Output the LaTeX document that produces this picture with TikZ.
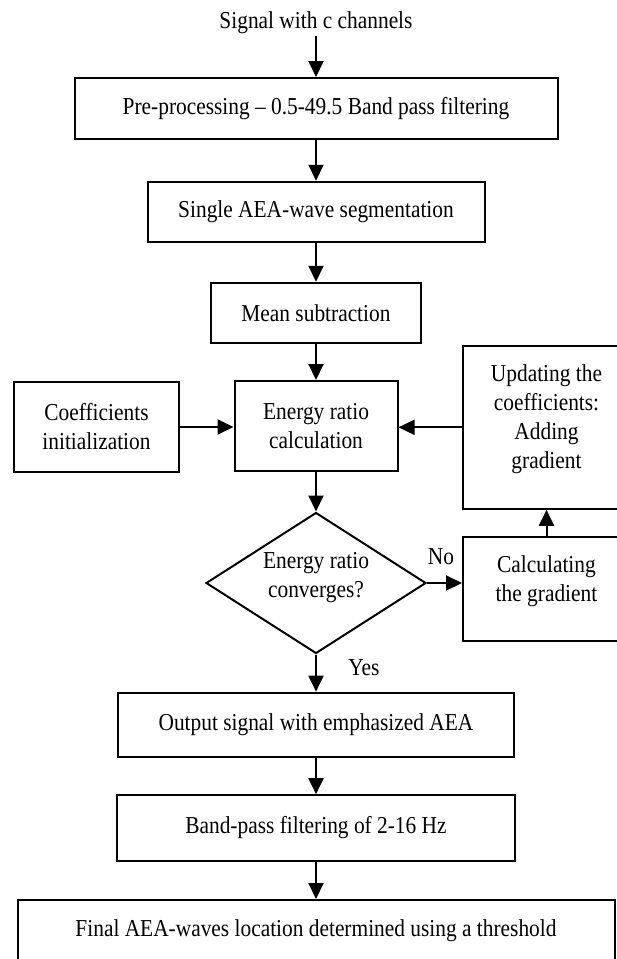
\documentclass[tikz,border=0pt]{standalone}
\usepackage{fontspec}
\setmainfont{Liberation Serif}[FakeStretch=0.88]
\usetikzlibrary{arrows.meta,shapes.geometric}
\begin{document}
\begin{tikzpicture}[x=1pt,y=-1pt,
  txt/.style={font=\fontsize{24.3}{29}\selectfont, align=center, inner sep=0pt},
  box/.style={txt, draw, line width=2pt},
  arr/.style={line width=2pt, -{Triangle[length=16pt,width=15pt]}}]
\useasboundingbox (0,0) rectangle (617,959);
\clip (0,0) rectangle (617,959);
% main column
\node[txt] (sig) at (316,23) {Signal with c channels};
\node[box, minimum width=483pt, minimum height=61pt] (pre) at (316,108.5) {Pre-processing – 0.5-49.5 Band pass filtering};
\node[box, minimum width=337pt, minimum height=60.5pt] (seg) at (316,212) {Single AEA-wave segmentation};
\node[box, minimum width=210pt, minimum height=60.5pt] (mean) at (316,313) {Mean subtraction};
\node[box, minimum width=163pt, minimum height=90pt] (calc) at (316,426) {Energy ratio\\calculation};
\node[box, minimum width=165pt, minimum height=90pt] (coef) at (96.5,427) {Coefficients\\initialization};
\node[box, minimum width=167pt, minimum height=163pt] (upd) at (546.5,427.3) {};
\node[txt] (updt) at (546.5,419) {Updating the\\coefficients:\\Adding\\gradient};
\node[draw, diamond, line width=2pt, minimum width=220pt, minimum height=141pt, inner sep=0pt] (dia) at (316,583) {};
\node[txt] (diat) at (316,578) {Energy ratio\\converges?};
\node[box, minimum width=167pt, minimum height=103.7pt] (grad) at (546.5,589) {};
\node[txt] (gradt) at (546.5,581) {Calculating\\the gradient};
\node[box, minimum width=396.5pt, minimum height=64.7pt] (out) at (316,725) {Output signal with emphasized AEA};
\node[box, minimum width=398pt, minimum height=65.7pt] (band) at (316,828) {Band-pass filtering of 2-16 Hz};
\node[box, minimum width=597pt, minimum height=62pt] (fin) at (316,931) {Final AEA-waves location determined using a threshold};
% labels
\node[txt] (no) at (441,557) {No};
\node[txt] (yes) at (364,668) {Yes};
% connectors
\draw[arr] ([yshift=-2pt]sig.south) -- (pre.north);
\draw[arr] (pre.south) -- (seg.north);
\draw[arr] (seg.south) -- (mean.north);
\draw[arr] (mean.south) -- (calc.north);
\draw[arr] (coef.east) -- (coef.east -| calc.west);
\draw[arr] (upd.west) -- (upd.west -| calc.east);
\draw[arr] (calc.south) -- (dia.north);
\draw[arr] (dia.east) -- (dia.east -| grad.west);
\draw[arr] (grad.north) -- (upd.south);
\draw[arr] (dia.south) -- (out.north);
\draw[arr] (out.south) -- (band.north);
\draw[arr] (band.south) -- (fin.north);
\end{tikzpicture}
\end{document}
